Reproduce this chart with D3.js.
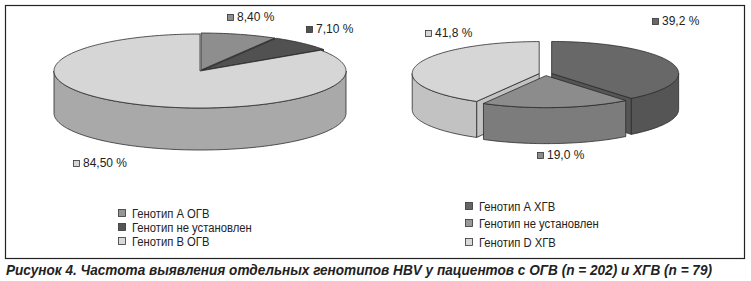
<!DOCTYPE html>
<html>
<head>
<meta charset="utf-8">
<script src="https://cdn.jsdelivr.net/npm/d3@7"></script>
<style>
  body { margin: 0; background: #fff; }
  svg { display: block; }
</style>
</head>
<body>
<script>
// data
var ogvNames = ["Генотип А ОГВ", "Генотип не установлен", "Генотип В ОГВ"];
var ogvValues = [8.4, 7.1, 84.5];
var hgvNames = ["Генотип А ХГВ", "Генотип не установлен", "Генотип D ХГВ"];
var hgvValues = [39.2, 19.0, 41.8];
var caption = "Рисунок 4. Частота выявления отдельных генотипов HBV у пациентов с ОГВ (n = 202) и ХГВ (n = 79)";

var W = 751, H = 281;

var svg = d3.select("body").append("svg")
    .attr("width", W)
    .attr("height", H);

// frame
svg.append("rect")
    .attr("x", 5.5).attr("y", 5.5)
    .attr("width", 739).attr("height", 253)
    .attr("fill", "none")
    .attr("stroke", "#222")
    .attr("stroke-width", 1.2);

var pie = d3.pie().sort(null).startAngle(0).endAngle(2 * Math.PI);

function drawPie3D(g, values, o) {
    var arcs = pie(values);
    var faces = [], tops = [];

    arcs.forEach(function (a, i) {
        var mid = (a.startAngle + a.endAngle) / 2;
        var ox = o.explode[i] * Math.sin(mid);
        var oy = -o.explode[i] * (o.ry / o.rx) * Math.cos(mid);
        function P(t, r, z) {
            return [o.cx + ox + r * o.rx * Math.sin(t), o.cy + oy - r * o.ry * Math.cos(t) + z];
        }
        function rim(a0, a1, z) {
            var pts = [], n = Math.max(2, Math.ceil((a1 - a0) / 0.02));
            for (var k = 0; k <= n; k++) pts.push(P(a0 + (a1 - a0) * k / n, 1, z));
            return pts;
        }
        var cyS = o.cy + oy;

        // outer wall, front part only
        var w0 = Math.max(a.startAngle, Math.PI / 2), w1 = Math.min(a.endAngle, 3 * Math.PI / 2);
        if (w1 > w0) {
            var pts = rim(w0, w1, 0).concat(rim(w0, w1, o.depth).reverse());
            faces.push({ pts: pts, fill: o.side[i], key: cyS - o.ry * Math.cos((w0 + w1) / 2) });
        }
        // cut faces that look to the front
        if (Math.sin(a.startAngle) < -1e-6) {
            faces.push({ pts: [P(0, 0, 0), P(a.startAngle, 1, 0), P(a.startAngle, 1, o.depth), P(0, 0, o.depth)],
                fill: o.side[i], key: cyS - 0.5 * o.ry * Math.cos(a.startAngle) });
        }
        if (Math.sin(a.endAngle) > 1e-6) {
            faces.push({ pts: [P(0, 0, 0), P(a.endAngle, 1, 0), P(a.endAngle, 1, o.depth), P(0, 0, o.depth)],
                fill: o.side[i], key: cyS - 0.5 * o.ry * Math.cos(a.endAngle) });
        }
        tops.push({ pts: [P(0, 0, 0)].concat(rim(a.startAngle, a.endAngle, 0)), fill: o.top[i] });
    });

    faces.sort(function (p, q) { return p.key - q.key; });
    var line = d3.line().curve(d3.curveLinearClosed);

    g.selectAll("path.side").data(faces).enter().append("path")
        .attr("class", "side")
        .attr("d", function (d) { return line(d.pts); })
        .attr("fill", function (d) { return d.fill; })
        .attr("stroke", "#2a2a2a")
        .attr("stroke-width", 0.8)
        .attr("stroke-linejoin", "round");

    g.selectAll("path.top").data(tops).enter().append("path")
        .attr("class", "top")
        .attr("d", function (d) { return line(d.pts); })
        .attr("fill", function (d) { return d.fill; })
        .attr("stroke", "#2a2a2a")
        .attr("stroke-width", 0.8)
        .attr("stroke-linejoin", "round");
}

// squeeze text horizontally to look like a narrow face
function narrow(sel, k) {
    sel.each(function () {
        var len = this.getComputedTextLength();
        d3.select(this).attr("textLength", len * k).attr("lengthAdjust", "spacingAndGlyphs");
    });
}

function drawLabels(g, values, fmt, pos, colors) {
    var lab = g.selectAll("g.lab").data(values).enter().append("g")
        .attr("class", "lab")
        .attr("transform", function (d, i) { return "translate(" + pos[i][0] + "," + pos[i][1] + ")"; });
    lab.append("rect")
        .attr("x", 0.5).attr("y", -6.5)
        .attr("width", 6).attr("height", 6)
        .attr("fill", function (d, i) { return colors[i]; })
        .attr("stroke", "#333").attr("stroke-width", 0.8);
    lab.append("text")
        .attr("x", 10).attr("y", 0)
        .attr("font-family", "Liberation Sans, Arial, sans-serif")
        .attr("font-size", "12px")
        .attr("fill", "#222")
        .text(function (d) { return fmt(d).replace(".", ",") + " %"; });
}

function drawLegend(g, names, x, ys, colors) {
    var it = g.selectAll("g.leg").data(names).enter().append("g")
        .attr("class", "leg")
        .attr("transform", function (d, i) { return "translate(" + x + "," + ys[i] + ")"; });
    it.append("rect")
        .attr("x", 0.5).attr("y", -3.5)
        .attr("width", 7).attr("height", 7)
        .attr("fill", function (d, i) { return colors[i]; })
        .attr("stroke", "#333").attr("stroke-width", 0.8);
    it.append("text")
        .attr("x", 14).attr("y", 4.5)
        .attr("font-family", "Liberation Sans, Arial, sans-serif")
        .attr("font-size", "12.5px")
        .attr("fill", "#222")
        .text(function (d) { return d; })
        .call(narrow, 0.9);
}

// left pie (ОГВ)
var gL = svg.append("g");
drawPie3D(gL, ogvValues, {
    cx: 200, cy: 71, rx: 146, ry: 37, depth: 42,
    explode: [4, 4, 0],
    top: ["#8e8e8e", "#515151", "#d6d6d6"],
    side: ["#7a7a7a", "#404040", "#a9a9a9"]
});
drawLabels(gL, ogvValues, d3.format(".2f"), [[227, 21], [306, 33], [73, 167]],
    ["#8e8e8e", "#515151", "#d6d6d6"]);
drawLegend(gL, ogvNames, 118, [213, 227, 241], ["#959595", "#555555", "#d9d9d9"]);

// right pie (ХГВ)
var gR = svg.append("g");
drawPie3D(gR, hgvValues, {
    cx: 545.5, cy: 74, rx: 127, ry: 32, depth: 36,
    explode: [6.5, 6.5, 6.5],
    top: ["#686868", "#8c8c8c", "#d6d6d6"],
    side: ["#555555", "#7c7c7c", "#c2c2c2"]
});
drawLabels(gR, hgvValues, d3.format(".1f"), [[652, 25], [537, 159], [425, 37]],
    ["#686868", "#8c8c8c", "#d6d6d6"]);
drawLegend(gR, hgvNames, 465, [206, 223, 242], ["#666666", "#999999", "#d9d9d9"]);

// caption
svg.append("text")
    .attr("x", 6).attr("y", 275)
    .attr("font-family", "Liberation Sans, Arial, sans-serif")
    .attr("font-size", "14px")
    .attr("font-weight", "bold")
    .attr("font-style", "italic")
    .attr("fill", "#222")
    .attr("textLength", 706)
    .attr("lengthAdjust", "spacingAndGlyphs")
    .text(caption);
</script>
</body>
</html>
